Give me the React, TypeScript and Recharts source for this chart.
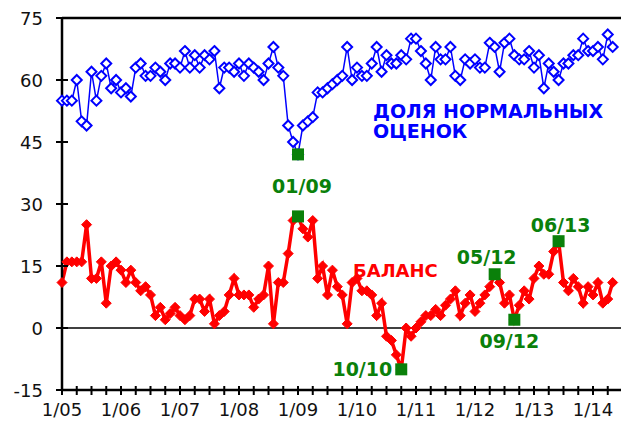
import { ComposedChart, Line, Scatter, XAxis, YAxis, ReferenceLine } from 'recharts';

// monthly values, 1/05 .. 5/14
const share = [
  55, 55, 55, 60, 50, 49, 62, 55, 61, 64, 58, 60,
  57, 58, 56, 63, 64, 61, 61, 63, 62, 60, 64, 64,
  63, 67, 63, 66, 63, 66, 65, 67, 58, 63, 63, 62,
  64, 61, 64, 63, 62, 60, 64, 68, 63, 61, 49, 45,
  42, 49, 50, 51, 57, 57, 58, 59, 60, 61, 68, 60,
  63, 61, 61, 64, 68, 62, 66, 64, 64, 66, 65, 70,
  70, 67, 64, 60, 68, 65, 65, 68, 61, 60, 65, 64,
  65, 63, 63, 69, 68, 62, 69, 70, 66, 65, 65, 67,
  63, 66, 58, 64, 62, 60, 64, 64, 66, 66, 70, 67,
  67, 68, 65, 71, 68,
];

const balance = [
  11, 16, 16, 16, 16, 25, 12, 12, 16, 6, 15, 16,
  14, 11, 14, 11, 9, 10, 8, 3, 5, 2, 3.5, 5,
  3, 2, 3, 7, 7, 4, 7, 1, 3, 4, 8, 12,
  8, 8, 8, 5, 7, 8, 15, 1, 11, 11, 18, 26,
  27, 24, 22, 26, 12, 15, 8, 14, 10, 8, 1, 11,
  12, 9, 9, 8, 3, 6, -2, -3, -6.5, -10, 0, -2,
  0, 1.5, 3, 3, 4.5, 3, 5.5, 7, 9, 3, 6, 8,
  4, 6, 8, 10, 13, 11, 6, 8, 2, 5.5, 9, 7,
  12, 15, 13, 13, 18.5, 21, 11, 9, 12, 10, 6, 10,
  8, 11, 6, 7, 11,
];

const yearLabels = ['1/05', '1/06', '1/07', '1/08', '1/09', '1/10', '1/11', '1/12', '1/13', '1/14'];
const yTicks = [-15, 0, 15, 30, 45, 60, 75];

// highlighted months (index from 1/05)
const highlightMonths = [48, 48, 69, 88, 92, 101];
const highlightLabels = ['', '01/09', '10/10', '05/12', '09/12', '06/13'];
const highlightSeries = ['share', 'balance', 'balance', 'balance', 'balance', 'balance'];

const data = share.map((s, i) => ({ m: i, share: s, balance: balance[i] }));
const highlights = highlightMonths.map((m, i) => ({
  m,
  v: highlightSeries[i] === 'share' ? share[m] : balance[m],
  label: highlightLabels[i],
}));
const xTicks = Array.from({ length: 38 }, (_, i) => i * 3);

const FONT = '"DejaVu Sans", sans-serif';
const GREEN = '#0a800a';

const labelPlace: Record<string, { dx: number; dy: number; anchor: string }> = {
  '01/09': { dx: 4, dy: -23, anchor: 'middle' },
  '10/10': { dx: -9, dy: 7, anchor: 'end' },
  '05/12': { dx: -8, dy: -10, anchor: 'middle' },
  '09/12': { dx: -5, dy: 28, anchor: 'middle' },
  '06/13': { dx: 2, dy: -9, anchor: 'middle' },
};

const YTick = ({ x, y, payload }: any) => (
  <g>
    <line x1={x - 6} x2={x + 6} y1={y} y2={y} stroke="#000" strokeWidth={2} />
    <text x={x - 19} y={y} dy={6.5} textAnchor="end" fontSize={18} fontFamily={FONT} fill="#111">
      {payload.value}
    </text>
  </g>
);

const XTick = ({ x, y, payload }: any) => {
  const m = payload.value;
  return (
    <g>
      <line x1={x} x2={x} y1={y - 4} y2={y + 5} stroke="#000" strokeWidth={2} />
      {m % 12 === 0 && (
        <text x={x} y={y + 26} textAnchor="middle" fontSize={18} fontFamily={FONT} fill="#111">
          {yearLabels[m / 12]}
        </text>
      )}
    </g>
  );
};

const HollowDiamond = ({ cx, cy }: any) => {
  if (cx == null || cy == null) return null;
  return (
    <polygon
      points={`${cx},${cy - 5} ${cx + 5},${cy} ${cx},${cy + 5} ${cx - 5},${cy}`}
      fill="#fff"
      stroke="#0000ff"
      strokeWidth={2}
    />
  );
};

const FilledDiamond = ({ cx, cy }: any) => {
  if (cx == null || cy == null) return null;
  return (
    <polygon
      points={`${cx},${cy - 5} ${cx + 5},${cy} ${cx},${cy + 5} ${cx - 5},${cy}`}
      fill="#ff0000"
      stroke="#ff0000"
      strokeWidth={1}
    />
  );
};

const Marker = ({ cx, cy, payload }: any) => {
  const p = labelPlace[payload.label];
  return (
    <g>
      <rect x={cx - 6} y={cy - 6} width={12} height={12} fill={GREEN} />
      {p && (
        <text
          x={cx + p.dx}
          y={cy + p.dy}
          textAnchor={p.anchor as any}
          fontSize={19}
          fontWeight="bold"
          fontFamily={FONT}
          fill={GREEN}
        >
          {payload.label}
        </text>
      )}
    </g>
  );
};

export default function App() {
  return (
    <div style={{ position: 'absolute', left: 0, top: 0, width: 621, height: 421, overflow: 'hidden', background: '#fff' }}>
      <ComposedChart width={640} height={421} data={data} margin={{ top: 18, right: 17.5, left: 0, bottom: 0 }}>
        <XAxis
          type="number"
          dataKey="m"
          domain={[0, 114]}
          ticks={xTicks}
          interval={0}
          tickSize={0}
          tickMargin={0}
          tickLine={false}
          tick={<XTick />}
          height={31}
          axisLine={{ stroke: '#000', strokeWidth: 2.5 }}
        />
        <YAxis
          type="number"
          domain={[-15, 75]}
          ticks={yTicks}
          interval={0}
          tickSize={0}
          tickMargin={0}
          tickLine={false}
          tick={<YTick />}
          width={62}
          axisLine={{ stroke: '#000', strokeWidth: 2.5 }}
        />
        <ReferenceLine y={75} stroke="#000" strokeWidth={2.5} />
        <ReferenceLine y={0} stroke="#000" strokeWidth={1.5} />
        <Line
          dataKey="share"
          stroke="#0000ff"
          strokeWidth={1.5}
          dot={<HollowDiamond />}
          activeDot={false}
          isAnimationActive={false}
        />
        <Line
          dataKey="balance"
          stroke="#ff0000"
          strokeWidth={3.5}
          dot={<FilledDiamond />}
          activeDot={false}
          isAnimationActive={false}
        />
        <Scatter data={highlights} dataKey="v" shape={<Marker />} isAnimationActive={false} />
      </ComposedChart>
      <svg width={621} height={421} style={{ position: 'absolute', left: 0, top: 0, pointerEvents: 'none' }}>
        <text x={373} y={118} fontSize={19} fontWeight="bold" fontFamily={FONT} fill="#0000ff">
          ДОЛЯ НОРМАЛЬНЫХ
        </text>
        <text x={373} y={138} fontSize={19} fontWeight="bold" fontFamily={FONT} fill="#0000ff">
          ОЦЕНОК
        </text>
        <text x={353} y={277} fontSize={18} fontWeight="bold" fontFamily={FONT} fill="#ff0000">
          БАЛАНС
        </text>
      </svg>
    </div>
  );
}
